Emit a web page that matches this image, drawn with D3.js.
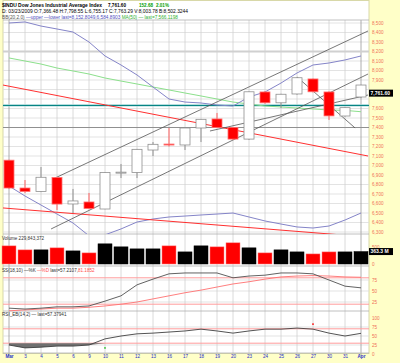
<!DOCTYPE html>
<html>
<head>
<meta charset="utf-8">
<script src="https://cdn.jsdelivr.net/npm/d3@7"></script>
<style>
body{margin:0;background:#ffffc8}
svg{display:block}
text{font-family:"Liberation Sans",Arial,sans-serif}
</style>
</head>
<body>
<div id="chart"></div>
<script>
// trading days, Mar 2 .. Apr 1 2009
var tickLabels = ["Mar","3","4","5","6","9","10","11","12","13","16","17","18","19","20","23","24","25","26","27","30","31","Apr"];

var openP  = [7056,6763,6726,6874,6595,6616,6542,6920,6926,7163,7226,7216,7395,7490,7400,7278,7774,7660,7753,7911,7774,7521,7721];
var highP  = [7060,6847,6984,6880,6753,6711,6930,7016,7175,7247,7395,7400,7490,7553,7405,7780,7780,7755,7930,7915,7780,7615,7850];
var lowP   = [6755,6710,6720,6532,6500,6540,6540,6868,6868,7100,7200,7163,7247,7395,7270,7270,7650,7605,7745,7770,7480,7515,7710];
var closeP = [6763,6726,6876,6594,6627,6547,6926,6930,7170,7223,7217,7395,7486,7400,7278,7776,7660,7750,7924,7776,7522,7609,7847];
var lastPrice = 7761.60;

var bbUpper = [8500,8511,8468,8437,8405,8300,8153,8058,7953,7826,7700,7668,7658,7637,7626,7721,7774,7868,7974,8058,8079,8111,8153];
var bbLower = [6784,6679,6584,6489,6395,6260,6270,6332,6405,6437,6458,6468,6479,6489,6500,6458,6416,6384,6353,6342,6363,6426,6500];
var ma50    = [8132,8100,8068,8026,7995,7963,7921,7889,7858,7826,7795,7763,7732,7700,7668,7647,7626,7616,7605,7595,7584,7580,7566];

// volume in millions
var volume = [529,412,412,471,382,324,588,500,441,441,529,353,529,500,618,471,324,412,353,294,353,353,363.3];

var stochK = [11,9,11,14,14,16,27,39,64,77,89,91,91,91,80,84,86,91,91,89,75,61,57.2];
var stochD = [5,7,9,11,11,13,16,20,25,32,39,46,52,59,66,71,77,82,84,85,84,82,81.2];
var rsi    = [25,17,19,22,22,25,42,50,56,58,61,64,69,64,58,64,69,69,72,69,58,50,57.4];

// user drawn trend lines: [day index, price] pairs
var blackLines = [[[2.75,6858],[22.44,8416]], [[2.63,6332],[22.44,7963]], [[12.56,7363],[22.44,7742]], [[18,7932],[21.63,7395]]];
var redLines = [[[-0.375,7847],[22.44,7100]], [[-0.375,6553],[22.44,6247]]];
var tealLevel = 7632, darkLevel = 7400, lightLevel = 8200;

var priceTicks = d3.range(6300, 8501, 100);
var volTicks = [0, 500];
var ssTicks = [25, 50, 75];
var rsiTicks = [0, 25, 50, 75, 100];

var rsiBuy = [[6, 17]], rsiSell = [[19, 83]];

var W = 400, H = 363, L = 3, R = 369;
var svg = d3.select("#chart").append("svg").attr("width", W).attr("height", H);
svg.append("rect").attr("width", W).attr("height", H).attr("fill", "#ffffc8");
svg.append("rect").attr("x", L).attr("y", 0.5).attr("width", R - L).attr("height", 353)
    .attr("fill", "#fff").attr("stroke", "#d8d8a8");

var x  = d3.scaleLinear().domain([0, tickLabels.length - 1]).range([9, 361]);
var yP = d3.scaleLinear().domain([6300, 8500]).range([232, 23]);
var yV = d3.scaleLinear().domain([0, 700]).range([264, 240]);
var yS = d3.scaleLinear().domain([0, 100]).range([313, 269]);
var yR = d3.scaleLinear().domain([0, 100]).range([354, 318]);

// grid
var grid = svg.append("g");
grid.selectAll(".hp").data(priceTicks).enter().append("line")
    .attr("x1", L).attr("x2", R).attr("y1", d => yP(d)).attr("y2", d => yP(d))
    .attr("stroke", "#dcdcdc").attr("stroke-width", 0.8);
grid.selectAll(".hs").data(ssTicks).enter().append("line")
    .attr("x1", L).attr("x2", R).attr("y1", d => yS(d)).attr("y2", d => yS(d))
    .attr("stroke", "#dcdcdc").attr("stroke-width", 0.8);
grid.selectAll(".hr").data(rsiTicks.slice(1, 4)).enter().append("line")
    .attr("x1", L).attr("x2", R).attr("y1", d => yR(d)).attr("y2", d => yR(d))
    .attr("stroke", "#dcdcdc").attr("stroke-width", 0.8);
grid.selectAll(".v").data(tickLabels).enter().append("line")
    .attr("x1", (d, i) => x(i)).attr("x2", (d, i) => x(i)).attr("y1", 20).attr("y2", 356)
    .attr("stroke", (d, i) => (i == 0 || i == tickLabels.length - 1) ? "#999" : "#d0d0d0")
    .attr("stroke-width", 0.8);

// panel separators
[20, 234, 266, 311, 353].forEach(function(yy){
    svg.append("line").attr("x1", L).attr("x2", R).attr("y1", yy).attr("y2", yy)
        .attr("stroke", "#b0b0b0").attr("stroke-width", 0.8);
});

// price panel
svg.append("clipPath").attr("id", "pclip").append("rect")
    .attr("x", L).attr("y", 20).attr("width", R - L).attr("height", 214);
var pg = svg.append("g").attr("clip-path", "url(#pclip)");

function hline(v, col, w){
    pg.append("line").attr("x1", L).attr("x2", R).attr("y1", yP(v)).attr("y2", yP(v))
        .attr("stroke", col).attr("stroke-width", w);
}
hline(lightLevel, "#d0d0d0", 2);
hline(darkLevel, "#909090", 1);
hline(tealLevel, "#a8d8d8", 2.2);
hline(tealLevel, "#008080", 1);

var line = d3.line().x((d, i) => x(i)).y(d => yP(d));
pg.append("path").attr("d", line(ma50)).attr("fill", "none").attr("stroke", "#8ce08c").attr("stroke-width", 1);
pg.append("path").attr("d", line(bbUpper)).attr("fill", "none").attr("stroke", "#8484c8").attr("stroke-width", 1);
pg.append("path").attr("d", line(bbLower)).attr("fill", "none").attr("stroke", "#8484c8").attr("stroke-width", 1);

var seg = d3.line().x(d => x(d[0])).y(d => yP(d[1]));
redLines.forEach(function(s){
    pg.append("path").attr("d", seg(s)).attr("stroke", "#ff3030").attr("stroke-width", 1).attr("fill", "none");
});
blackLines.forEach(function(s){
    pg.append("path").attr("d", seg(s)).attr("stroke", "#555").attr("stroke-width", 0.8).attr("fill", "none");
});

// candles
var days = d3.range(tickLabels.length);
var down = i => closeP[i] < openP[i];
pg.selectAll(".wick").data(days).enter().append("line")
    .attr("x1", i => x(i)).attr("x2", i => x(i))
    .attr("y1", i => yP(highP[i])).attr("y2", i => yP(lowP[i]))
    .attr("stroke", i => down(i) ? "#ff6060" : "#909090").attr("stroke-width", 1);
pg.selectAll(".body").data(days).enter().append("rect")
    .attr("x", i => x(i) - 5).attr("width", 10)
    .attr("y", i => yP(Math.max(openP[i], closeP[i])))
    .attr("height", i => Math.max(1, Math.abs(yP(openP[i]) - yP(closeP[i]))))
    .attr("fill", i => down(i) ? "#ff0000" : "#fff")
    .attr("stroke", i => down(i) ? "#ff7070" : "#909090").attr("stroke-width", 0.8);

// volume
svg.selectAll(".vol").data(days).enter().append("rect")
    .attr("x", i => x(i) - 7).attr("width", 14)
    .attr("y", i => yV(volume[i])).attr("height", i => yV(0) - yV(volume[i]))
    .attr("fill", i => down(i) ? "#ff0000" : "#000")
    .attr("stroke", i => down(i) ? "#ff8080" : "#000").attr("stroke-width", 0.5);

// stochastics
[20, 80].forEach(function(v){
    svg.append("line").attr("x1", L).attr("x2", R).attr("y1", yS(v)).attr("y2", yS(v))
        .attr("stroke", "#ff9c9c").attr("stroke-width", 1);
});
var sline = d3.line().x((d, i) => x(i)).y(d => yS(d));
svg.append("path").attr("d", sline(stochD)).attr("fill", "none").attr("stroke", "#ff7070").attr("stroke-width", 0.9);
svg.append("path").attr("d", sline(stochK)).attr("fill", "none").attr("stroke", "#505050").attr("stroke-width", 0.9);

// rsi
[30, 70].forEach(function(v){
    svg.append("line").attr("x1", L).attr("x2", R).attr("y1", yR(v)).attr("y2", yR(v))
        .attr("stroke", "#ff9c9c").attr("stroke-width", 1);
});
var rarea = d3.area().x((d, i) => x(i)).y0(yR(30)).y1(d => yR(Math.min(d, 30)));
svg.append("path").attr("d", rarea(rsi)).attr("fill", "#707070");
var rline = d3.line().x((d, i) => x(i)).y(d => yR(d));
svg.append("path").attr("d", rline(rsi)).attr("fill", "none").attr("stroke", "#404040").attr("stroke-width", 0.9);
svg.selectAll(".buy").data(rsiBuy).enter().append("circle")
    .attr("cx", d => x(d[0])).attr("cy", d => yR(d[1])).attr("r", 0.9).attr("fill", "#30c030");
svg.selectAll(".sell").data(rsiSell).enter().append("circle")
    .attr("cx", d => x(d[0])).attr("cy", d => yR(d[1])).attr("r", 0.9).attr("fill", "#ff0000");

// axes
function rightAxis(scale, ticks, fmt){
    var g = svg.append("g").attr("transform", "translate(" + R + ",0)")
        .call(d3.axisRight(scale).tickValues(ticks).tickSize(0).tickPadding(3).tickFormat(fmt));
    g.select(".domain").remove();
    g.attr("font-size", 4.6).attr("font-family", "Liberation Sans, Arial, sans-serif").attr("color", "#f07058");
    return g;
}
// the last price box hides the tick label under it
var shownPriceTicks = priceTicks.filter(d => Math.abs(yP(d) - yP(lastPrice)) > 6);
rightAxis(yP, shownPriceTicks, d3.format(","));
rightAxis(yV, volTicks, d => d);
rightAxis(yS, ssTicks, d => d);
rightAxis(yR, rsiTicks, d => d);

var xg = svg.append("g").attr("transform", "translate(0,353)")
    .call(d3.axisBottom(x).tickValues(days).tickSize(0).tickPadding(1.5).tickFormat(i => tickLabels[i]));
xg.select(".domain").remove();
xg.attr("font-size", 4.6).attr("font-family", "Liberation Sans, Arial, sans-serif").attr("color", "#2830c8");
xg.selectAll("text").attr("font-weight", (d, i) => (i == 0 || i == days.length - 1) ? "bold" : "normal");

// last value boxes
function valueBox(yy, label){
    svg.append("rect").attr("x", 369).attr("y", yy - 3.5).attr("width", 24).attr("height", 7).attr("fill", "#000");
    svg.append("text").attr("x", 370.5).attr("y", yy + 1.8).attr("fill", "#fff")
        .attr("font-size", 5).attr("font-weight", "bold").text(label);
}
valueBox(yP(lastPrice), d3.format(",.2f")(lastPrice));
valueBox(yV(volume[volume.length - 1]), volume[volume.length - 1] + " M");

// header and panel titles
function headText(xx, yy, w, col, s){
    svg.append("text").attr("x", xx).attr("y", yy).attr("font-size", 5.2).attr("font-weight", "bold")
        .attr("fill", col).attr("textLength", w).attr("lengthAdjust", "spacingAndGlyphs").text(s);
}
headText(2, 7, 100, "#000", "$INDU Dow Jones Industrial Average Index");
headText(108, 7, 18, "#000", "7,761.60");
headText(139, 7, 14, "#00a000", "152.68");
headText(156, 7, 13, "#00a000", "2.01%");

svg.append("text").attr("x", 2).attr("y", 13).attr("font-size", 4.8)
    .attr("textLength", 186).attr("lengthAdjust", "spacingAndGlyphs")
    .text("D: 03/23/2009 O:7,366.48 H:7,798.55 L:6,755.17 C:7,763.29 V:8,003.78 B:8,502.3244");

var t3 = svg.append("text").attr("x", 2).attr("y", 19).attr("font-size", 4.8)
    .attr("textLength", 176).attr("lengthAdjust", "spacingAndGlyphs");
t3.append("tspan").attr("fill", "#555").text("BB(20,2.0) ");
t3.append("tspan").attr("fill", "#5050c0").text("\u2014upper \u2014lower last=8,152.8049,6,584.8903 ");
t3.append("tspan").attr("fill", "#30b030").text("MA(50) \u2014 last=7,566.1198");

svg.append("text").attr("x", 2).attr("y", 239.5).attr("font-size", 4.6).attr("fill", "#333")
    .text("Volume 229,843,372");
var ts = svg.append("text").attr("x", 2).attr("y", 271.5).attr("font-size", 4.6).attr("fill", "#333");
ts.append("tspan").text("SS(18,10) \u2014%K ");
ts.append("tspan").attr("fill", "#ff5050").text("\u2014%D ");
ts.append("tspan").text("last=57.2107,");
ts.append("tspan").attr("fill", "#ff5050").text("81.1852");
svg.append("text").attr("x", 2).attr("y", 315.5).attr("font-size", 4.6).attr("fill", "#333")
    .text("RSI_EB(14,2) \u2014 last=57.37941");
</script>
</body>
</html>
